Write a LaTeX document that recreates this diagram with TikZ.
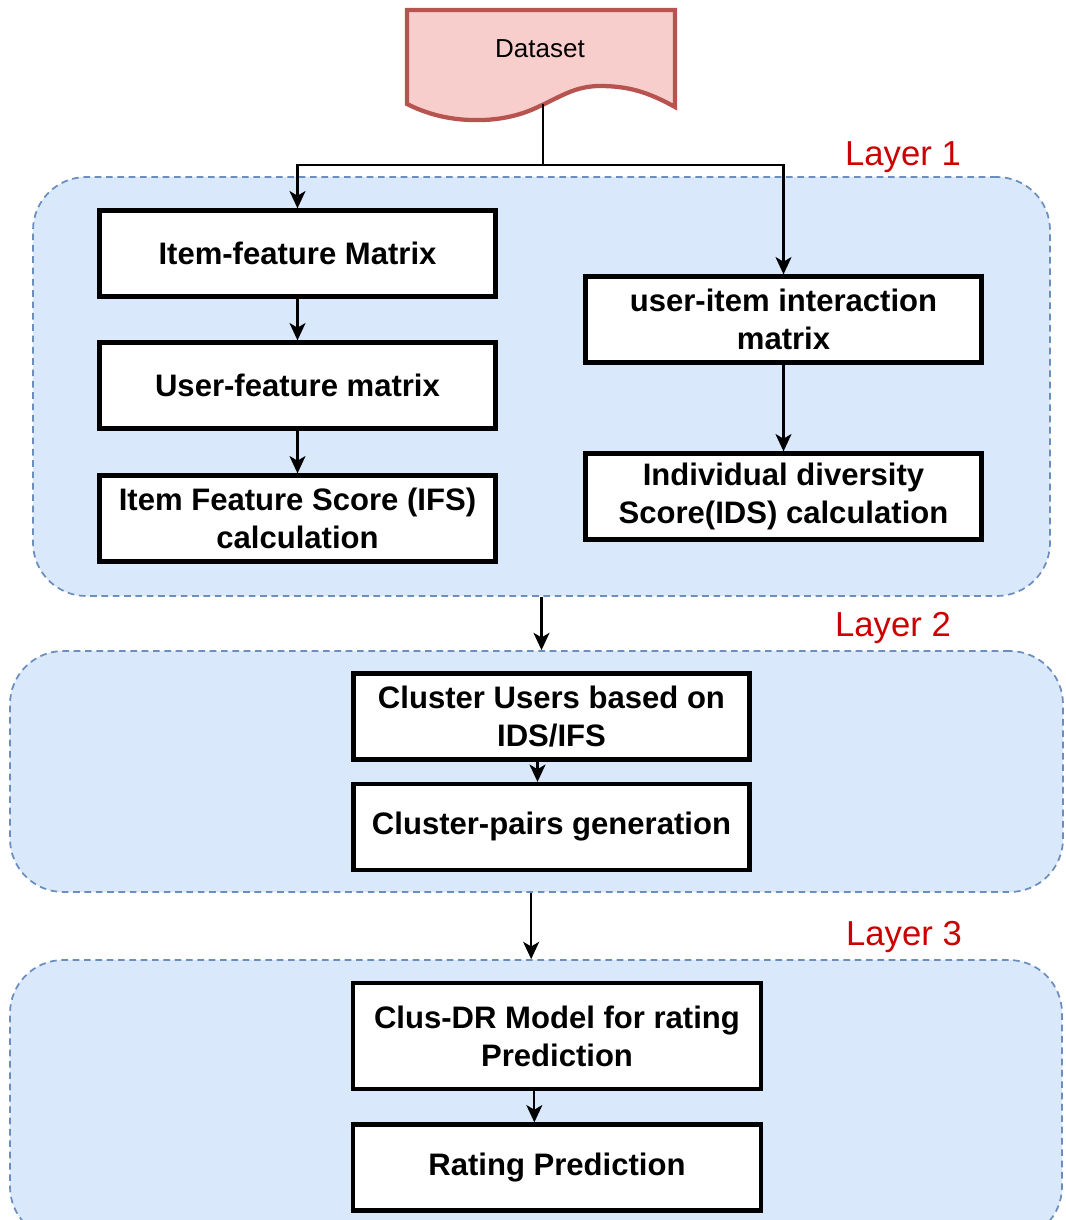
\documentclass[tikz,border=0pt]{standalone}
\usepackage{fontspec}
\setmainfont{Liberation Sans}
\usetikzlibrary{arrows.meta,calc}
\definecolor{lfill}{HTML}{DAE8FC}
\definecolor{lstroke}{HTML}{6C8EBF}
\definecolor{dfill}{HTML}{F8CECC}
\definecolor{dstroke}{HTML}{B85450}
\definecolor{lred}{HTML}{CC0000}
\begin{document}
\begin{tikzpicture}[x=0.75pt,y=-0.75pt,
  layerbox/.style={draw=lstroke, fill=lfill, line width=1.3pt, dash pattern=on 5pt off 3.5pt, rounded corners=40pt, inner sep=0pt},
  stepbox/.style={draw=black, fill=white, line width=3.2pt, inner sep=0pt, align=center,
     font=\fontsize{23.3}{28.5}\selectfont\bfseries, minimum width=297pt, minimum height=64.5pt},
  arr/.style={draw=black, line width=1.6pt, -{Stealth[length=13pt,width=12pt,inset=3.5pt]}},
  layerlabel/.style={text=lred, font=\fontsize{26}{30}\selectfont, inner sep=0pt}
]
\useasboundingbox (0,0) rectangle (1065,1220);
\clip (0,0) rectangle (1065,1220);

% layers
\node[layerbox, minimum width=762.75pt, minimum height=314.25pt] (L1) at (541.5,386.5) {};
\node[layerbox, minimum width=789.75pt, minimum height=180.75pt] (L2) at (536.5,771.5) {};
\node[layerbox, minimum width=789pt, minimum height=210pt] (L3) at (536,1100) {};

\node[layerlabel] (lab1) at (903,157) {Layer 1};
\node[layerlabel] (lab2) at (893,628) {Layer 2};
\node[layerlabel] (lab3) at (904,937) {Layer 3};

% dataset
\draw[draw=dstroke, fill=dfill, line width=3.2pt, line join=miter]
  (407,10) -- (675,10) -- (675,107)
  .. controls (648,92) and (628,86) .. (600,86)
  .. controls (575,86) and (560,97) .. (540,106)
  .. controls (520,116) and (497,121) .. (470,120)
  .. controls (445,119) and (425,113) .. (407,104) -- cycle;
\node[font=\fontsize{19.5}{23}\selectfont, inner sep=0pt] (ds) at (540,49) {Dataset};
\coordinate (dsb) at (543,104);
\coordinate (split) at (543,165);

% boxes
\node[stepbox] (itemfeat) at (297.5,253.5) {Item-feature Matrix};
\node[stepbox] (userfeat) at (297.5,385.5) {User-feature matrix};
\node[stepbox] (ifs) at (297.5,518.5) {Item Feature Score (IFS)\\calculation};
\node[stepbox] (uim) at (783.5,319.5) {user-item interaction\\matrix};
\node[stepbox] (ids) at (783.5,496.5) {Individual diversity\\Score(IDS) calculation};
\node[stepbox] (clusters) at (551.5,716.5) {Cluster Users based on\\IDS/IFS};
\node[stepbox] (pairs) at (551.5,827) {Cluster-pairs generation};
\node[stepbox, minimum width=305.5pt, minimum height=79.5pt] (clusdr) at (557,1036) {Clus-DR Model for rating\\Prediction};
\node[stepbox, minimum width=305.5pt] (rating) at (557,1167.5) {Rating Prediction};

% connectors
\draw[line width=1.6pt] (dsb) -- (split);
\draw[arr] (split) -| (itemfeat.north);
\draw[arr] (split) -| (uim.north);
\draw[arr] (itemfeat) -- (userfeat);
\draw[arr] (userfeat) -- (ifs);
\draw[arr] (uim) -- (ids);
\draw[arr] (L1.south) -- (L1.south |- L2.north);
\draw[arr] ([xshift=-10.5pt]clusters.south) -- ([xshift=-10.5pt]pairs.north);
\draw[arr] ([xshift=-4pt]L2.south) -- ([xshift=-4pt]L2.south |- L3.north);
\draw[arr] ([xshift=-17pt]clusdr.south) -- ([xshift=-17pt]rating.north);
\end{tikzpicture}
\end{document}
